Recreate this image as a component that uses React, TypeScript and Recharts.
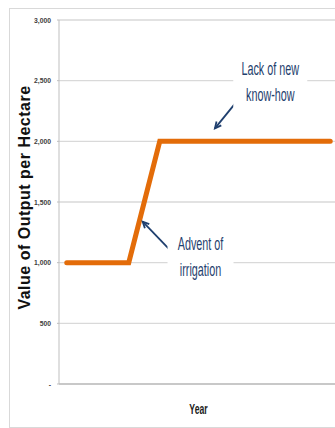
import { LineChart, Line, XAxis, YAxis, CartesianGrid, ReferenceDot, ReferenceLine } from 'recharts';

// output per hectare, one value per year; the gap is bridged by the line
const output = [
  1000, 1000, 1000, 1000, 1000, null, 2000, 2000, 2000,
  2000, 2000, 2000, 2000, 2000, 2000, 2000, 2000, 2000,
];
const yTicks = [0, 500, 1000, 1500, 2000, 2500, 3000];

const notes = [
  { lines: ['Lack of new', 'know-how'], x: 13.13, y: 2490, w: 74 },
  { lines: ['Advent of', 'irrigation'], x: 8.63, y: 1047, w: 66 },
];
const arrows = [
  { from: { x: 10.96, y: 2327 }, to: { x: 9.56, y: 2107 } },
  { from: { x: 6.62, y: 1110 }, to: { x: 4.9, y: 1338 } },
];

const data = output.map((value, i) => ({ period: i, value }));
const xTicks = [...output.map((_, i) => i - 0.5), output.length - 0.5];

const NAVY = '#1f3f6e';
const FONT = "'Liberation Sans', Arial, sans-serif";

function Arrow(props: any) {
  const { x1, y1, x2, y2 } = props;
  const a = Math.atan2(y2 - y1, x2 - x1);
  const h = 7;
  const l = [x2 - h * Math.cos(a - 0.45), y2 - h * Math.sin(a - 0.45)];
  const r = [x2 - h * Math.cos(a + 0.45), y2 - h * Math.sin(a + 0.45)];
  return (
    <g>
      <line x1={x1} y1={y1} x2={x2} y2={y2} stroke={NAVY} strokeWidth={1.8} />
      <path d={`M${l[0]},${l[1]}L${x2},${y2}L${r[0]},${r[1]}`} fill="none" stroke={NAVY} strokeWidth={1.8} />
    </g>
  );
}

function Note({ cx, cy, lines, w }: any) {
  return (
    <g>
      <rect x={cx - w / 2} y={cy - 26} width={w} height={52} fill="#fff" />
      {lines.map((t: string, i: number) => (
        <text
          key={t}
          transform={`translate(${cx},${cy + (i - 0.5) * 26}) scale(0.6,1)`}
          textAnchor="middle"
          dominantBaseline="central"
          fontFamily={FONT}
          fontSize={18}
          fill={NAVY}
        >
          {t}
        </text>
      ))}
    </g>
  );
}

function YTick({ x, y, payload }: any) {
  const v = payload.value;
  return (
    <text
      transform={`translate(${x},${y}) scale(0.85,1)`}
      textAnchor="end"
      dominantBaseline="central"
      fontFamily={FONT}
      fontWeight="bold"
      fontSize={8}
      fill="#404040"
    >
      {v === 0 ? '-' : v.toLocaleString('en-US')}
    </text>
  );
}

function YTitle({ viewBox }: any) {
  const x = viewBox.x + 24;
  const y = viewBox.y + viewBox.height / 2 - 4.5;
  return (
    <text
      transform={`translate(${x},${y}) rotate(-90)`}
      textAnchor="middle"
      dominantBaseline="central"
      fontFamily={FONT}
      fontWeight="bold"
      fontSize={16}
      letterSpacing={0.5}
      fill="#111"
    >
      Value of Output per Hectare
    </text>
  );
}

function XTitle({ viewBox }: any) {
  const x = viewBox.x + viewBox.width / 2;
  return (
    <text
      transform={`translate(${x},${viewBox.y + 25}) scale(0.62,1)`}
      textAnchor="middle"
      dominantBaseline="central"
      fontFamily={FONT}
      fontWeight="bold"
      fontSize={14}
      fill="#222"
    >
      Year
    </text>
  );
}

export default function App() {
  return (
    <div style={{ position: 'relative', width: 335, height: 428, overflow: 'hidden', background: '#fff' }}>
      <style>{'body{margin:0;overflow:hidden}'}</style>
      <div
        style={{
          position: 'absolute', left: 9, top: 8, width: 400, height: 418,
          border: '1px solid #d9d9d9',
        }}
      />
      <div style={{ position: 'absolute', left: 0, top: 0 }}>
        <LineChart
          width={345}
          height={428}
          data={data}
          margin={{ top: 20, right: 7, bottom: 14, left: 0 }}
        >
          <CartesianGrid vertical={false} stroke="#d9d9d9" strokeWidth={1.3} />
          <XAxis
            dataKey="period"
            type="number"
            domain={[-0.5, output.length - 0.5]}
            ticks={xTicks}
            tick={false}
            tickSize={4}
            height={30}
            stroke="#bfbfbf"
            strokeWidth={1.5}
            label={<XTitle />}
          />
          <YAxis
            domain={[0, 3000]}
            ticks={yTicks}
            width={59}
            tickSize={2}
            tickMargin={6}
            stroke="#bfbfbf"
            tick={<YTick />}
            label={<YTitle />}
          />
          {notes.map((n) => (
            <ReferenceDot
              key={n.lines[0]}
              x={n.x}
              y={n.y}
              shape={(p: any) => <Note cx={p.cx} cy={p.cy} lines={n.lines} w={n.w} />}
            />
          ))}
          <Line
            type="linear"
            dataKey="value"
            stroke="#e36c09"
            strokeWidth={5}
            strokeLinecap="round"
            dot={false}
            activeDot={false}
            connectNulls
            isAnimationActive={false}
          />
          {arrows.map((a, i) => (
            <ReferenceLine key={i} segment={[a.from, a.to]} shape={(p: any) => <Arrow {...p} />} />
          ))}
        </LineChart>
      </div>
    </div>
  );
}
